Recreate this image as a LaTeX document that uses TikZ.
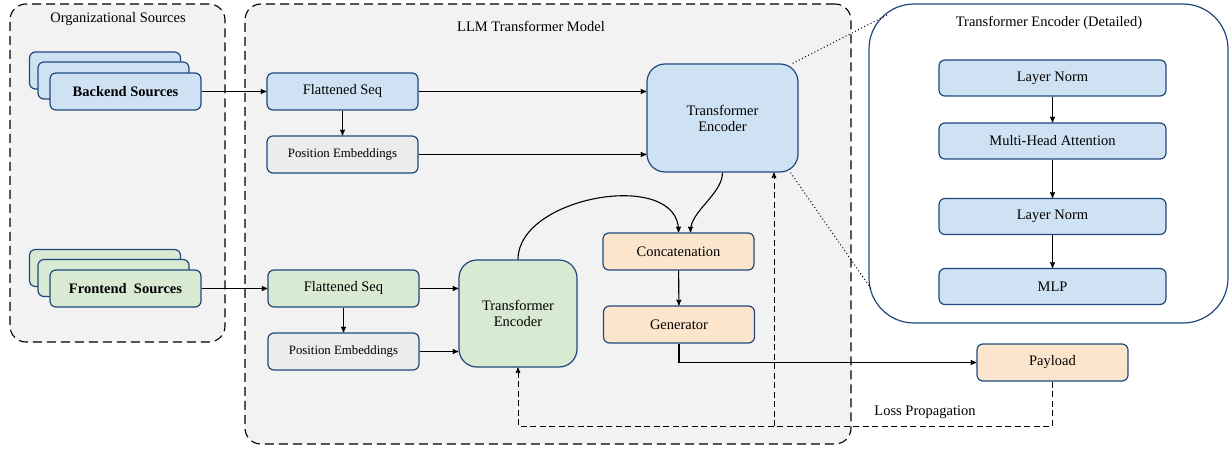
\documentclass[tikz,border=0pt]{standalone}
\usepackage{fontspec}
\setmainfont{Liberation Serif}
\usetikzlibrary{arrows}
\definecolor{navy}{RGB}{31,73,125}
\definecolor{boxblue}{RGB}{207,226,243}
\definecolor{boxgreen}{RGB}{217,234,211}
\definecolor{boxorange}{RGB}{252,229,205}
\definecolor{boxgray}{RGB}{236,236,236}
\definecolor{areagray}{RGB}{242,242,242}

\begin{document}
\begin{tikzpicture}[x=1pt,y=-1pt,->,>=stealth',line width=1.1pt,node distance=63pt,
  font=\fontsize{14.5}{16}\selectfont]
\tikzstyle{area}=[draw=black,dash pattern=on 9pt off 5pt,fill=areagray,rounded corners=16pt]
\tikzstyle{block}=[draw=navy,line width=1.2pt,rounded corners=6pt,minimum width=151pt,minimum height=37pt,inner sep=0pt]
\tikzstyle{layer}=[block,fill=boxblue,minimum width=227pt,minimum height=36pt]
\tikzstyle{encoder}=[block,rounded corners=18pt,align=center]
\tikzstyle{source}=[block,font=\fontsize{14.5}{16}\selectfont\bfseries]
\tikzstyle{small}=[font=\fontsize{12.8}{15}\selectfont]
\tikzstyle{loss}=[line width=1pt,dash pattern=on 6pt off 3.5pt]
\useasboundingbox (0,0) rectangle (1230,449);

% group areas
\node[area,minimum width=215pt,minimum height=338pt] (org) at (117.5,173) {};
\node[area,minimum width=606pt,minimum height=440pt] (llm) at (548,224) {};
\node[draw=navy,line width=1.2pt,fill=white,rounded corners=45pt,minimum width=359pt,minimum height=319pt] (detail) at (1048.5,163.5) {};
\node (orgtitle) at (118,19) {Organizational Sources};
\node (llmtitle) at (531,26) {LLM Transformer Model};
\node (detailtitle) at (1049,23) {Transformer Encoder (Detailed)};

% sources
\node[source,fill=boxblue] (back3) at (105,70.5) {};
\node[source,fill=boxblue] (back2) at (113.5,80.5) {};
\node[source,fill=boxblue] (back1) at (125.5,91.5) {Backend Sources};
\node[source,fill=boxgreen] (front3) at (105,268) {};
\node[source,fill=boxgreen] (front2) at (113.5,278) {};
\node[source,fill=boxgreen] (front1) at (125.5,288.5) {Frontend\ \ Sources};

% model
\node[block,fill=boxblue] (flat1) at (342.5,91.5) {Flattened Seq};
\node[block,fill=boxgray,small] (pe1) [below of=flat1] {Position Embeddings};
\node[block,fill=boxgreen] (flat2) at (343.5,288.5) {Flattened Seq};
\node[block,fill=boxgray,small] (pe2) [below of=flat2] {Position Embeddings};
\node[encoder,fill=boxblue,minimum width=151pt,minimum height=108pt] (enc1) at (722.5,118) {Transformer\\Encoder};
\node[encoder,fill=boxgreen,minimum width=118pt,minimum height=107pt] (enc2) at (518,313.5) {Transformer\\Encoder};
\node[block,fill=boxorange] (concat) at (678.5,251.5) {Concatenation};
\node[block,fill=boxorange] (gen) at (679,324.5) {Generator};
\node[block,fill=boxorange] (pay) at (1052.5,362.5) {Payload};

% detailed encoder
\node[layer] (ln1) at (1052.5,78) {Layer Norm};
\node[layer] (mha) at (1052.5,141) {Multi-Head Attention};
\node[layer] (ln2) at (1052.5,216.5) {Layer Norm};
\node[layer] (mlp) at (1052.5,286.5) {MLP};

\path
(back1) edge (flat1)
(front1) edge (flat2)
(flat1) edge (pe1)
        edge (flat1.east -| enc1.west)
(pe1.east) edge (pe1.east -| enc1.west)
(flat2) edge (pe2)
        edge (flat2.east -| enc2.west)
(pe2.east) edge (pe2.east -| enc2.west)
(enc2.north) edge [out=90,in=90] (concat.north)
(enc1.south) edge [out=-90,in=90,looseness=0.8] ([xshift=12pt]concat.north)
(concat) edge (gen)
(ln1) edge (mha)
(mha) edge (ln2)
(ln2) edge (mlp);

\draw (gen.south) |- (pay.west);

% loss propagation
\coordinate (lossR) at (1052.5,426);
\coordinate (lossM) at (774,426);
\draw[loss] (pay.south) -- (lossR) -| (enc2.south);
\draw[loss] (lossM) -- (lossM |- enc1.south);
\node (losslabel) at (925,412) {Loss Propagation};

% zoom lines
\coordinate (zoomA) at (887,15);
\coordinate (zoomB) at (872,290);
\draw[-,line width=1pt,dash pattern=on 1pt off 2.5pt] ([xshift=-6pt]enc1.north east) -- (zoomA);
\draw[-,line width=1pt,dash pattern=on 1pt off 2.5pt] ([xshift=-8pt]enc1.south east) -- (zoomB);
\end{tikzpicture}
\end{document}
